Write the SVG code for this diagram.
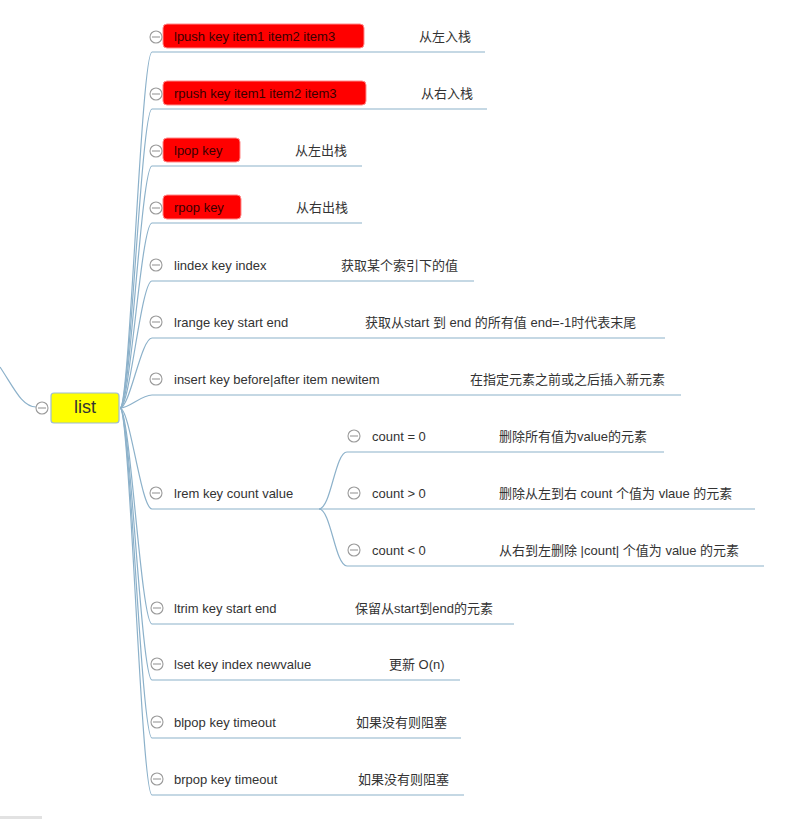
<svg xmlns="http://www.w3.org/2000/svg" width="786" height="819" viewBox="0 0 786 819">
<style>
.bg{fill:#ffffff}
.conn{fill:none;stroke:#8cb1ca;stroke-width:1.2}
.t{font-family:"Liberation Sans","Noto Sans CJK SC",sans-serif;font-size:13px;fill:#333}
.lbl{font-family:"Liberation Sans","Noto Sans CJK SC",sans-serif;font-size:13px;fill:#333}
.red{fill:#ff0000;stroke:#ff8a8a;stroke-width:1}
.rt{font-family:"Liberation Sans","Noto Sans CJK SC",sans-serif;font-size:13px;fill:#3a0000}
.root{fill:#ffff00;stroke:#9dbcd0;stroke-width:1.2}
.rootT{font-family:"Liberation Sans","Noto Sans CJK SC",sans-serif;font-size:18px;fill:#333}
.cc{fill:#fff;stroke:#9a9a9a;stroke-width:1.1}
.cl{stroke:#9a9a9a;stroke-width:1.1}
</style>
<defs>
<g id="collapse"><circle class="cc" cx="0" cy="0" r="6"/><line class="cl" x1="-4" y1="0" x2="4" y2="0"/></g>
</defs>
<rect class="bg" x="0" y="0" width="786" height="819"/>
<rect x="0" y="816" width="42" height="3" fill="#e2e2e2"/>
<g id="connectors">
<path class="conn" d="M0,367 C14,388 22,407 36,407"/>
<path class="conn" d="M120,408 C130,408 141,52 152,52 H485"/>
<path class="conn" d="M120,408 C130,408 141,109 152,109 H487"/>
<path class="conn" d="M120,408 C130,408 141,166 152,166 H362"/>
<path class="conn" d="M120,408 C130,408 141,223 152,223 H362"/>
<path class="conn" d="M120,408 C130,408 141,281 152,281 H474"/>
<path class="conn" d="M120,408 C130,408 141,338 152,338 H665"/>
<path class="conn" d="M120,408 C130,408 141,395 152,395 H681"/>
<path class="conn" d="M120,408 C130,408 141,509 152,509 H319"/>
<path class="conn" d="M120,408 C130,408 141,624 152,624 H514"/>
<path class="conn" d="M120,408 C130,408 141,680 152,680 H460"/>
<path class="conn" d="M120,408 C130,408 141,738 152,738 H461"/>
<path class="conn" d="M120,408 C130,408 141,795 152,795 H464"/>
<path class="conn" d="M319,509 C331,509 335,452 347,452 H664"/>
<path class="conn" d="M319,509 H755"/>
<path class="conn" d="M319,509 C331,509 335,566 347,566 H764"/>
</g>
<g id="root">
<rect class="root" x="51" y="393" width="68" height="30" rx="3"/>
<text class="rootT" x="85" y="413" text-anchor="middle">list</text>
<use href="#collapse" x="42" y="408"/>
</g>
<g id="n-lpush">
<rect class="red" x="163" y="24" width="201" height="24" rx="4"/>
<use href="#collapse" x="156" y="37"/>
<text class="rt" x="174" y="41">lpush key item1 item2 item3</text>
<text class="lbl" x="419" y="41">从左入栈</text>
</g>
<g id="n-rpush">
<rect class="red" x="163" y="81" width="203" height="24" rx="4"/>
<use href="#collapse" x="156" y="94"/>
<text class="rt" x="174" y="98">rpush key item1 item2 item3</text>
<text class="lbl" x="421" y="98">从右入栈</text>
</g>
<g id="n-lpop">
<rect class="red" x="163" y="138" width="77" height="24" rx="4"/>
<use href="#collapse" x="156" y="151"/>
<text class="rt" x="174" y="155">lpop key</text>
<text class="lbl" x="295" y="155">从左出栈</text>
</g>
<g id="n-rpop">
<rect class="red" x="163" y="195" width="78" height="24" rx="4"/>
<use href="#collapse" x="156" y="208"/>
<text class="rt" x="174" y="212">rpop key</text>
<text class="lbl" x="296" y="212">从右出栈</text>
</g>
<g id="n-lindex">
<use href="#collapse" x="156" y="265"/>
<text class="t" x="174" y="270">lindex key index</text>
<text class="lbl" x="341" y="270">获取某个索引下的值</text>
</g>
<g id="n-lrange">
<use href="#collapse" x="156" y="322"/>
<text class="t" x="174" y="327">lrange key start end</text>
<text class="lbl" x="365" y="327">获取从start 到 end 的所有值 end=-1时代表末尾</text>
</g>
<g id="n-insert">
<use href="#collapse" x="156" y="379"/>
<text class="t" x="174" y="384">insert key before|after item newitem</text>
<text class="lbl" x="470" y="384">在指定元素之前或之后插入新元素</text>
</g>
<g id="n-lrem">
<use href="#collapse" x="156" y="493"/>
<text class="t" x="174" y="498">lrem key count value</text>
</g>
<g id="n-count0">
<use href="#collapse" x="354" y="436"/>
<text class="t" x="372" y="441">count = 0</text>
<text class="lbl" x="499" y="441">删除所有值为value的元素</text>
</g>
<g id="n-countpos">
<use href="#collapse" x="354" y="493"/>
<text class="t" x="372" y="498">count &gt; 0</text>
<text class="lbl" x="499" y="498">删除从左到右 count 个值为 vlaue 的元素</text>
</g>
<g id="n-countneg">
<use href="#collapse" x="354" y="550"/>
<text class="t" x="372" y="555">count &lt; 0</text>
<text class="lbl" x="499" y="555">从右到左删除 |count| 个值为 value 的元素</text>
</g>
<g id="n-ltrim">
<use href="#collapse" x="157" y="608"/>
<text class="t" x="174" y="613">ltrim key start end</text>
<text class="lbl" x="355" y="613">保留从start到end的元素</text>
</g>
<g id="n-lset">
<use href="#collapse" x="157" y="664"/>
<text class="t" x="174" y="669">lset key index newvalue</text>
<text class="lbl" x="389" y="669">更新 O(n)</text>
</g>
<g id="n-blpop">
<use href="#collapse" x="157" y="722"/>
<text class="t" x="174" y="727">blpop key timeout</text>
<text class="lbl" x="356" y="727">如果没有则阻塞</text>
</g>
<g id="n-brpop">
<use href="#collapse" x="157" y="779"/>
<text class="t" x="174" y="784">brpop key timeout</text>
<text class="lbl" x="358" y="784">如果没有则阻塞</text>
</g>
</svg>
